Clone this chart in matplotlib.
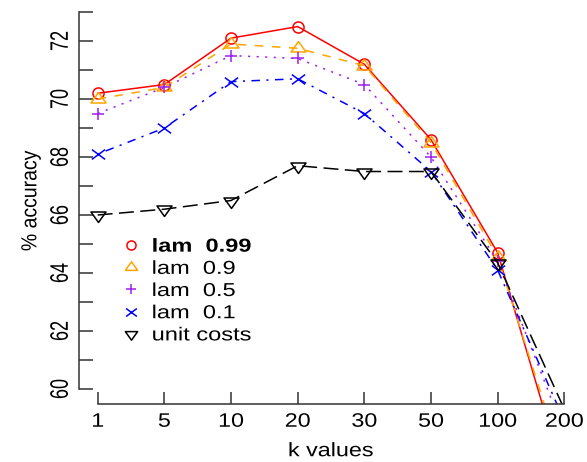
import numpy as np
import matplotlib
matplotlib.use('Agg')
from matplotlib import pyplot as plt
from matplotlib.path import Path
from matplotlib.transforms import Affine2D
from matplotlib.patheffects import AbstractPathEffect

# x는 범주형 (등간격)
k_labels = ['1', '5', '10', '20', '30', '50', '100', '200']
lam_099 = [70.2, 70.5, 72.1, 72.5, 71.2, 68.6, 64.7, 56.9]
lam_09 = [70.0, 70.4, 71.9, 71.75, 71.15, 68.5, 64.55, 57.3]
lam_05 = [69.5, 70.4, 71.5, 71.4, 70.5, 68.0, 64.4, 58.5]
lam_01 = [68.1, 69.0, 70.6, 70.7, 69.5, 67.5, 64.1, 58.9]
unit_costs = [66.0, 66.2, 66.5, 67.7, 67.5, 67.5, 64.35, 59.3]

plt.rcParams['font.family'] = ['Liberation Sans', 'DejaVu Sans']


# 원본 그림의 글자가 가로로 넓게 늘어나 있어서 흉내낸다
class StretchX(AbstractPathEffect):
    def __init__(self, sx, anchor='center'):
        super().__init__()
        self.sx = sx
        self.anchor = anchor

    def draw_path(self, renderer, gc, tpath, affine, rgbFace=None):
        if len(tpath.vertices) == 0:
            return
        xs = affine.transform(tpath.vertices)[:, 0]
        x0 = xs.min() if self.anchor == 'left' else (xs.min() + xs.max()) / 2
        t = affine + Affine2D().translate(-x0, 0).scale(self.sx, 1).translate(x0, 0)
        renderer.draw_path(gc, tpath, t, rgbFace)


# 가로로 넓은 삼각형, x 마커
w = 1.67
tri_down = Path([(-w, 0.78), (w, 0.78), (0, -1.555), (-w, 0.78)], closed=True)
tri_up = Path([(-w, -0.78), (w, -0.78), (0, 1.555), (-w, -0.78)], closed=True)
wide_x = Path([(-1.0, -0.74), (1.0, 0.74), (-1.0, 0.74), (1.0, -0.74)],
              [Path.MOVETO, Path.LINETO, Path.MOVETO, Path.LINETO])

fig = plt.figure(figsize=(5.87, 4.62), dpi=100)
ax = fig.add_axes([79 / 587, 58 / 462, 504 / 587, 407 / 462])

x = np.arange(1, len(k_labels) + 1)
lw = 1.1
series = [
    (lam_099, 'red', '-', 'o', 8.0, 'lam  0.99'),
    (lam_09, 'orange', (0, (5.6, 5.6)), tri_up, 10.8, 'lam  0.9'),
    (lam_05, '#A020F0', (0, (1.4, 4.2)), '+', 8.8, 'lam  0.5'),
    (lam_01, 'blue', (0, (1.4, 4.2, 5.6, 4.2)), wide_x, 9.5, 'lam  0.1'),
    (unit_costs, 'black', (0, (9.8, 4.2)), tri_down, 10.8, 'unit costs'),
]
for vals, col, ls, mk, ms, lab in series:
    ax.plot(x, vals, color=col, linestyle=ls, linewidth=lw)
    ax.plot(x, vals, linestyle='none', marker=mk, markersize=ms,
            markerfacecolor='none', markeredgecolor=col, markeredgewidth=1.1,
            label=lab)

ax.set_xlim(0.72, 8.28)
ax.set_ylim(59.48, 73.52)

for s in ['top', 'right']:
    ax.spines[s].set_visible(False)
ax.spines['left'].set_bounds(60, 73)
ax.spines['bottom'].set_bounds(1, 8)
for s in ['left', 'bottom']:
    ax.spines[s].set_color('#333333')
    ax.spines[s].set_linewidth(1.1)

yt = np.arange(60, 74)
ax.set_yticks(yt)
ax.set_yticklabels([str(v) if v % 2 == 0 else '' for v in yt],
                   rotation=90, va='center')
ax.set_xticks(x)
ax.set_xticklabels(k_labels)
ax.tick_params(axis='y', direction='in', length=10, width=1.1, pad=7,
               labelsize=13, color='#333333')
ax.tick_params(axis='x', direction='in', length=9, width=1.1, pad=7,
               labelsize=14, color='#333333')
for t in ax.get_yticklabels():
    t.set_path_effects([StretchX(1.4)])
for t in ax.get_xticklabels():
    t.set_path_effects([StretchX(1.2)])

ax.set_xlabel('k values', fontsize=14, labelpad=9,
              path_effects=[StretchX(1.2)])
ax.set_ylabel('% accuracy', fontsize=14, labelpad=9,
              path_effects=[StretchX(1.12)])

leg = ax.legend(loc='upper left', bbox_to_anchor=(0.069, 0.425), frameon=False,
                fontsize=13.5, handlelength=1.0, handletextpad=0.62,
                labelspacing=0.27, markerscale=0.82, borderaxespad=0)
for t in leg.get_texts():
    t.set_path_effects([StretchX(1.26, anchor='left')])
leg.get_texts()[0].set_fontweight('bold')

plt.savefig('out.png', dpi=100)
